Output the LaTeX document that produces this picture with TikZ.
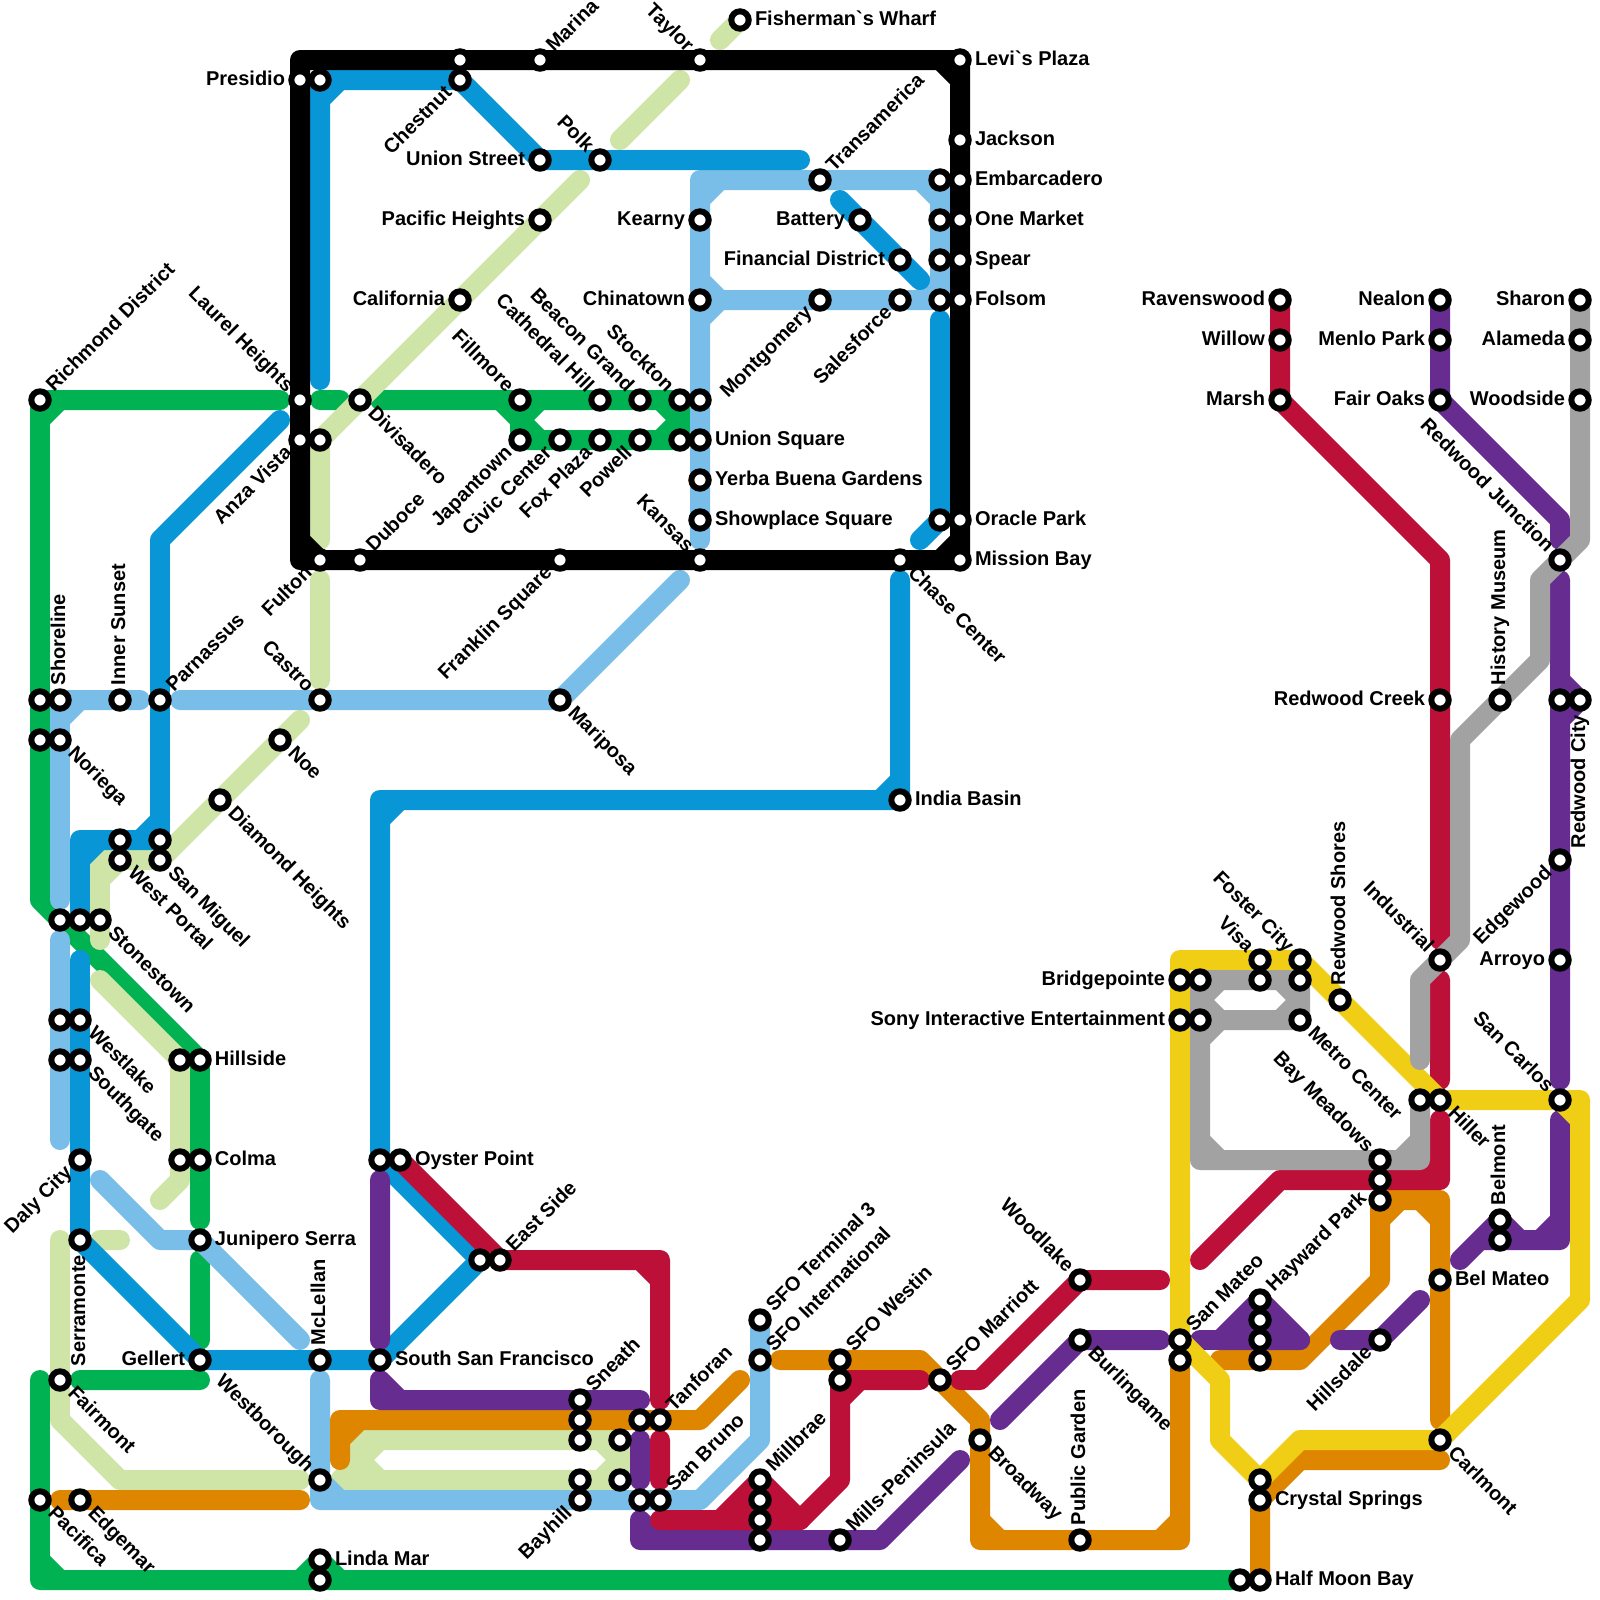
\documentclass[tikz,border=0pt]{standalone}
\usepackage{fontspec}
\newfontfamily\labfont{Liberation Sans}
\pgfdeclarelayer{lines}
\pgfsetlayers{lines,main}
\definecolor{cgreen}{HTML}{00B251}
\definecolor{cblue}{HTML}{0896D7}
\definecolor{clblue}{HTML}{79BDE9}
\definecolor{clgreen}{HTML}{CFE4A7}
\definecolor{corange}{HTML}{DF8600}
\definecolor{cpurple}{HTML}{662C90}
\definecolor{cred}{HTML}{BD1038}
\definecolor{cyellow}{HTML}{F0CE15}
\definecolor{cgray}{HTML}{A2A2A2}
\tikzset{
  metro/.style={line width=0.4cm,line cap=round,line join=round},
  gn/.style={metro,draw=cgreen},
  lg/.style={metro,draw=clgreen},
  lb/.style={metro,draw=clblue},
  bl/.style={metro,draw=cblue},
  bk/.style={metro,draw=black},
  og/.style={metro,draw=corange},
  pu/.style={metro,draw=cpurple},
  rd/.style={metro,draw=cred},
  ye/.style={metro,draw=cyellow},
  gy/.style={metro,draw=cgray},
  station/.style={circle,draw=black,fill=white,line width=0.12cm,minimum size=0.348cm,inner sep=0pt,outer sep=0pt},
  lbl/.style={inner sep=0pt,outer sep=0pt,text=black,font=\labfont\fontsize{11.38pt}{13pt}\selectfont\bfseries},
  lblR/.style={lbl,xshift=.3cm,yshift=-.1cm,anchor=base west},
  lblL/.style={lbl,xshift=-.3cm,yshift=-.1cm,anchor=base east},
  lblUR/.style={lbl,xshift=.282cm,yshift=.141cm,rotate=45,anchor=base west},
  lblDL/.style={lbl,xshift=-.141cm,yshift=-.282cm,rotate=45,anchor=base east},
  lblDR/.style={lbl,xshift=.141cm,yshift=-.282cm,rotate=-45,anchor=base west},
  lblUL/.style={lbl,xshift=-.282cm,yshift=.141cm,rotate=-45,anchor=base east},
  lblU/.style={lbl,xshift=.1cm,yshift=.3cm,rotate=90,anchor=base west},
  lblD/.style={lbl,xshift=.1cm,yshift=-.3cm,rotate=90,anchor=base east},
}
\newcommand{\stn}[5]{\node[station] (#1) at (#2,#3) {}; \node[#4] (#1-t) at (#1.center) {#5};}
\newcommand{\stp}[3]{\node[station] (#1) at (#2,#3) {};}
\begin{document}
\begin{tikzpicture}[x=0.02cm,y=-0.02cm]
\useasboundingbox (0,0) rectangle (1600,1600);
% ---------- stations
\stn{wharf}{740}{20}{lblR}{Fisherman`s Wharf}
\stp{marinaW}{460}{60}
\stn{marina}{540}{60}{lblUR}{Marina}
\stn{taylor}{700}{60}{lblUL}{Taylor}
\stn{levis}{960}{60}{lblR}{Levi`s Plaza}
\stn{presidio}{300}{80}{lblL}{Presidio}
\stp{presidioB}{320}{80}
\stn{chestnut}{460}{80}{lblDL}{Chestnut}
\stn{jackson}{960}{140}{lblR}{Jackson}
\stn{unionst}{540}{160}{lblL}{Union Street}
\stn{polk}{600}{160}{lblUL}{Polk}
\stn{transam}{820}{180}{lblUR}{Transamerica}
\stp{embB}{940}{180}
\stn{emb}{960}{180}{lblR}{Embarcadero}
\stn{pacific}{540}{220}{lblL}{Pacific Heights}
\stn{kearny}{700}{220}{lblL}{Kearny}
\stn{battery}{860}{220}{lblL}{Battery}
\stp{oneB}{940}{220}
\stn{one}{960}{220}{lblR}{One Market}
\stn{findist}{900}{260}{lblL}{Financial District}
\stp{spearB}{940}{260}
\stn{spear}{960}{260}{lblR}{Spear}
\stn{california}{460}{300}{lblL}{California}
\stn{chinatown}{700}{300}{lblL}{Chinatown}
\stn{montgomery}{820}{300}{lblDL}{Montgomery}
\stn{salesforce}{900}{300}{lblDL}{Salesforce}
\stp{folsomB}{940}{300}
\stn{folsom}{960}{300}{lblR}{Folsom}
\stn{ravenswood}{1280}{300}{lblL}{Ravenswood}
\stn{nealon}{1440}{300}{lblL}{Nealon}
\stn{sharon}{1580}{300}{lblL}{Sharon}
\stn{willow}{1280}{340}{lblL}{Willow}
\stn{menlo}{1440}{340}{lblL}{Menlo Park}
\stn{alameda}{1580}{340}{lblL}{Alameda}
\stn{richmond}{40}{400}{lblUR}{Richmond District}
\stn{laurel}{300}{400}{lblUL}{Laurel Heights}
\stn{divisadero}{360}{400}{lblDR}{Divisadero}
\stn{fillmore}{520}{400}{lblUL}{Fillmore}
\stn{cathedral}{600}{400}{lblUL}{Cathedral Hill}
\stn{beacon}{640}{400}{lblUL}{Beacon Grand}
\stn{stockton}{680}{400}{lblUL}{Stockton}
\stp{stocktonB}{700}{400}
\stn{marsh}{1280}{400}{lblL}{Marsh}
\stn{fairoaks}{1440}{400}{lblL}{Fair Oaks}
\stn{woodside}{1580}{400}{lblL}{Woodside}
\stn{anza}{300}{440}{lblDL}{Anza Vista}
\stp{anzaB}{320}{440}
\stn{japantown}{520}{440}{lblDL}{Japantown}
\stn{civic}{560}{440}{lblDL}{Civic Center}
\stn{foxplaza}{600}{440}{lblDL}{Fox Plaza}
\stn{powell}{640}{440}{lblDL}{Powell}
\stp{unionB}{680}{440}
\stn{unionsq}{700}{440}{lblR}{Union Square}
\stn{yerba}{700}{480}{lblR}{Yerba Buena Gardens}
\stn{showplace}{700}{520}{lblR}{Showplace Square}
\stp{oracleB}{940}{520}
\stn{oracle}{960}{520}{lblR}{Oracle Park}
\stn{fulton}{320}{560}{lblDL}{Fulton}
\stn{duboce}{360}{560}{lblUR}{Duboce}
\stn{franklin}{560}{560}{lblDL}{Franklin Square}
\stn{kansas}{700}{560}{lblUL}{Kansas}
\stn{chase}{900}{560}{lblDR}{Chase Center}
\stn{mission}{960}{560}{lblR}{Mission Bay}
\stn{rjunction}{1560}{560}{lblUL}{Redwood Junction}
\stp{shorelineB}{40}{700}
\stn{shoreline}{60}{700}{lblU}{Shoreline}
\stn{innersunset}{120}{700}{lblU}{Inner Sunset}
\stn{parnassus}{160}{700}{lblUR}{Parnassus}
\stn{castro}{320}{700}{lblUL}{Castro}
\stn{mariposa}{560}{700}{lblDR}{Mariposa}
\stn{rcreek}{1440}{700}{lblL}{Redwood Creek}
\stn{history}{1500}{700}{lblU}{History Museum}
\stp{rcityB}{1560}{700}
\stn{rcity}{1580}{700}{lblD}{Redwood City}
\stp{noriegaB}{40}{740}
\stn{noriega}{60}{740}{lblDR}{Noriega}
\stn{noe}{280}{740}{lblDR}{Noe}
\stn{india}{900}{800}{lblR}{India Basin}
\stn{diamond}{220}{800}{lblDR}{Diamond Heights}
\stp{wportalB}{120}{840}
\stp{smiguelB}{160}{840}
\stn{wportal}{120}{860}{lblDR}{West Portal}
\stn{smiguel}{160}{860}{lblDR}{San Miguel}
\stn{edgewood}{1560}{860}{lblDL}{Edgewood}
\stp{stoneA}{60}{920}
\stp{stoneB}{80}{920}
\stn{stonestown}{100}{920}{lblDR}{Stonestown}
\stn{industrial}{1440}{960}{lblUL}{Industrial}
\stn{arroyo}{1560}{960}{lblL}{Arroyo}
\stn{visa}{1260}{960}{lblUL}{Visa}
\stn{foster}{1300}{960}{lblUL}{Foster City}
\stn{bridge}{1180}{980}{lblL}{Bridgepointe}
\stp{bridgeB}{1200}{980}
\stp{visaB}{1260}{980}
\stp{fosterB}{1300}{980}
\stn{rshores}{1340}{1000}{lblU}{Redwood Shores}
\stn{sony}{1180}{1020}{lblL}{Sony Interactive Entertainment}
\stp{sonyB}{1200}{1020}
\stn{metroc}{1300}{1020}{lblDR}{Metro Center}
\stp{westlakeB}{60}{1020}
\stn{westlake}{80}{1020}{lblDR}{Westlake}
\stp{southgateB}{60}{1060}
\stn{southgate}{80}{1060}{lblDR}{Southgate}
\stp{hillsideB}{180}{1060}
\stn{hillside}{200}{1060}{lblR}{Hillside}
\stp{hillerB}{1420}{1100}
\stn{hiller}{1440}{1100}{lblDR}{Hiller}
\stn{sancarlos}{1560}{1100}{lblUL}{San Carlos}
\stn{bayMeadows}{1380}{1160}{lblUL}{Bay Meadows}
\stn{dalycity}{80}{1160}{lblDL}{Daly City}
\stp{colmaB}{180}{1160}
\stn{colma}{200}{1160}{lblR}{Colma}
\stp{oysterB}{380}{1160}
\stn{oyster}{400}{1160}{lblR}{Oyster Point}
\stp{haywardB}{1380}{1180}
\stp{hayward}{1380}{1200}
\stn{belmont}{1500}{1220}{lblU}{Belmont}
\stp{belmontB}{1500}{1240}
\stn{serramonte}{80}{1240}{lblD}{Serramonte}
\stn{junipero}{200}{1240}{lblR}{Junipero Serra}
\stp{eastB}{480}{1260}
\stn{eastside}{500}{1260}{lblUR}{East Side}
\stn{woodlake}{1080}{1280}{lblUL}{Woodlake}
\stn{belmateo}{1440}{1280}{lblR}{Bel Mateo}
\stn{haywardT}{1260}{1300}{lblUR}{Hayward Park}
\stn{sfot3}{760}{1320}{lblUR}{SFO Terminal 3}
\stp{haywardC}{1260}{1320}
\stp{haywardD}{1260}{1340}
\stp{haywardE}{1260}{1360}
\stn{burlingame}{1080}{1340}{lblDR}{Burlingame}
\stn{sanmateo}{1180}{1340}{lblUR}{San Mateo}
\stn{hillsdale}{1380}{1340}{lblDL}{Hillsdale}
\stn{gellert}{200}{1360}{lblL}{Gellert}
\stn{mclellan}{320}{1360}{lblU}{McLellan}
\stn{ssf}{380}{1360}{lblR}{South San Francisco}
\stn{sfoint}{760}{1360}{lblUR}{SFO International}
\stn{sfowestin}{840}{1360}{lblUR}{SFO Westin}
\stp{sanmateoB}{1180}{1360}
\stn{fairmont}{60}{1380}{lblDR}{Fairmont}
\stp{westinB}{840}{1380}
\stn{marriott}{940}{1380}{lblUR}{SFO Marriott}
\stn{sneath}{580}{1400}{lblUR}{Sneath}
\stp{sneathB}{580}{1420}
\stp{tanforanB}{640}{1420}
\stn{tanforan}{660}{1420}{lblUR}{Tanforan}
\stp{sneathC}{580}{1440}
\stp{lgA}{620}{1440}
\stn{broadway}{980}{1440}{lblDR}{Broadway}
\stn{carlmont}{1440}{1440}{lblDR}{Carlmont}
\stn{westborough}{320}{1480}{lblUL}{Westborough}
\stp{bayhillB}{580}{1480}
\stp{lgB}{620}{1480}
\stn{millbrae}{760}{1480}{lblUR}{Millbrae}
\stp{crystalB}{1260}{1480}
\stn{pacifica}{40}{1500}{lblDR}{Pacifica}
\stn{edgemar}{80}{1500}{lblDR}{Edgemar}
\stn{bayhill}{580}{1500}{lblDL}{Bayhill}
\stp{sanbrunoB}{640}{1500}
\stn{sanbruno}{660}{1500}{lblUR}{San Bruno}
\stp{millbraeB}{760}{1500}
\stn{crystal}{1260}{1500}{lblR}{Crystal Springs}
\stp{millbraeC}{760}{1520}
\stp{millbraeD}{760}{1540}
\stn{mills}{840}{1540}{lblUR}{Mills-Peninsula}
\stn{publicg}{1080}{1540}{lblU}{Public Garden}
\stn{lindamar}{320}{1560}{lblR}{Linda Mar}
\stp{lindamarB}{320}{1580}
\stp{halfmoonB}{1240}{1580}
\stn{halfmoon}{1260}{1580}{lblR}{Half Moon Bay}
% ---------- lines
\begin{pgfonlayer}{lines}
\fill[white] (0,0) rectangle (1600,1600);
% green
\draw[gn] (280,400) -- (richmond.center) -- (40,900) -- (hillside.center) -- (200,1220)
  (60,400) -- (40,420)
  (200,1260) -- (200,1340)
  (320,400) -- (340,400)
  (380,400) -- (stockton.center) -- (680,440) -- (japantown.center) -- (fillmore.center)
  (500,400) -- (520,420) -- (540,400) (520,420) -- (540,440)
  (660,400) -- (680,420) -- (660,440)
  (80,1380) -- (200,1380)
  (40,1380) -- (40,1580) -- (halfmoonB.center)
  (40,1560) -- (60,1580)
  (300,1580) -- (lindamar.center) -- (340,1580);
% light green
\draw[lg] (wharf.center) -- (720,40)
  (680,80) -- (620,140)
  (580,180) -- (pacific.center) -- (california.center) -- (divisadero.center) -- (anzaB.center) -- (320,540)
  (320,580) -- (320,680)
  (300,720) -- (noe.center) -- (diamond.center) -- (smiguel.center) -- (100,860) -- (100,940)
  (100,880) -- (120,860)
  (100,980) -- (hillsideB.center) -- (180,1180) -- (160,1200)
  (100,1240) -- (120,1240)
  (60,1240) -- (60,1420) -- (120,1480) -- (300,1480)
  (340,1480) -- (lgB.center) -- (lgA.center) -- (360,1440) -- (360,1480)
  (340,1480) -- (380,1440) (360,1460) -- (380,1480)
  (600,1440) -- (620,1460) -- (600,1480);
% light blue
\draw[lb] (700,540) -- (700,180) -- (940,180) -- (folsomB.center) -- (chinatown.center)
  (700,200) -- (720,180) (920,180) -- (940,200) (920,300) -- (940,280)
  (700,280) -- (720,300) -- (700,320)
  (680,580) -- (mariposa.center) -- (180,700)
  (140,700) -- (shoreline.center) -- (60,900)
  (60,720) -- (80,700)
  (60,940) -- (60,1140)
  (100,1180) -- (160,1240) -- (junipero.center) -- (300,1340)
  (320,1380) -- (320,1500) -- (700,1500) -- (760,1440) -- (sfot3.center)
  (320,1480) -- (340,1500);
% blue
\draw[bl] (320,380) -- (presidioB.center) -- (chestnut.center) -- (unionst.center) -- (800,160)
  (320,100) -- (340,80)
  (840,200) -- (battery.center) -- (findist.center) -- (920,280)
  (940,320) -- (oracleB.center) -- (920,540)
  (900,580) -- (india.center) -- (380,800) -- (oysterB.center) -- (eastB.center) -- (ssf.center) -- (gellert.center) -- (serramonte.center) -- (80,960)
  (880,800) -- (900,780) (380,820) -- (400,800)
  (280,420) -- (160,540) -- (160,840) -- (80,840) -- (80,920)
  (140,840) -- (160,820) (80,860) -- (100,840);
% black
\draw[bk] (300,60) -- (960,60) -- (960,560) -- (300,560) -- cycle
  (940,60) -- (960,80) (960,540) -- (940,560) (300,540) -- (320,560);
% orange
\draw[og] (340,1460) -- (340,1420) -- (700,1420) -- (740,1380)
  (340,1440) -- (360,1420)
  (60,1500) -- (300,1500)
  (780,1360) -- (920,1360) -- (980,1420) -- (980,1540) -- (1180,1540) -- (sanmateoB.center)
  (980,1520) -- (1000,1540) (1160,1540) -- (1180,1520)
  (1220,1360) -- (1300,1360) -- (1380,1280) -- (hayward.center) -- (1440,1200) -- (1440,1420)
  (1380,1220) -- (1400,1200) (1420,1200) -- (1440,1220)
  (1440,1460) -- (1300,1460) -- (crystal.center) -- (halfmoon.center);
% purple
\draw[pu] (nealon.center) -- (fairoaks.center) -- (1560,520) -- (1560,540)
  (1560,580) -- (1560,1080)
  (1560,680) -- (rcity.center) -- (1560,720)
  (1560,1120) -- (1560,1240) -- (1480,1240)
  (1540,1240) -- (1560,1220)
  (1460,1260) -- (belmont.center) -- (1520,1240)
  (1000,1420) -- (burlingame.center) -- (1160,1340)
  (1340,1340) -- (hillsdale.center) -- (1420,1300)
  (380,1180) -- (380,1340)
  (380,1380) -- (380,1400) -- (640,1400)
  (380,1380) -- (400,1400)
  (640,1440) -- (640,1480)
  (640,1520) -- (640,1540) -- (880,1540) -- (960,1460)
  (640,1520) -- (660,1540);
\draw[pu,fill=cpurple] (1220,1340) -- (haywardT.center) -- (1300,1340) -- cycle;
\draw[pu] (1200,1340) -- (1300,1340);
% red
\draw[rd] (ravenswood.center) -- (marsh.center) -- (1440,560) -- (1440,940)
  (1440,980) -- (1440,1080)
  (1440,1120) -- (1440,1180) -- (1280,1180) -- (1200,1260)
  (1420,1180) -- (1440,1160)
  (1160,1280) -- (woodlake.center) -- (980,1380) -- (960,1380)
  (920,1380) -- (westinB.center) -- (840,1480) -- (800,1520) -- (660,1520)
  (840,1400) -- (860,1380)
  (oyster.center) -- (eastside.center) -- (660,1260) -- (660,1400)
  (640,1260) -- (660,1280)
  (660,1440) -- (660,1480);
\draw[rd,fill=cred] (720,1520) -- (millbrae.center) -- (800,1520) -- cycle;
% yellow
\draw[ye] (sanmateo.center) -- (1180,960) -- (foster.center) -- (hiller.center) -- (1580,1100) -- (1580,1300) -- (carlmont.center) -- (1300,1440) -- (crystalB.center) -- (1220,1440) -- (1220,1380) -- (sanmateo.center)
  (1560,1100) -- (1580,1120);
% gray
\draw[gy] (sharon.center) -- (1580,540) -- (1540,580) -- (1540,660) -- (history.center) -- (1460,740) -- (1460,940) -- (1420,980) -- (1420,1060)
  (bridgeB.center) -- (fosterB.center) -- (metroc.center) -- (sonyB.center)
  (bridgeB.center) -- (1200,1160) -- (1420,1160) -- (hillerB.center)
  (1220,980) -- (1200,1000) -- (1220,1020)
  (1280,980) -- (1300,1000) -- (1280,1020)
  (1200,1040) -- (1220,1020)
  (1200,1140) -- (1220,1160)
  (1400,1160) -- (1420,1140);
\end{pgfonlayer}
\end{tikzpicture}
\end{document}
